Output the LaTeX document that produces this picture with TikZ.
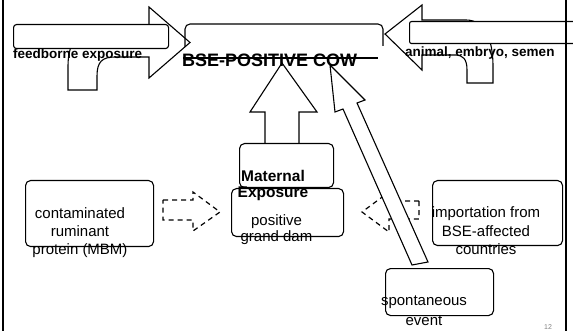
\documentclass[tikz,border=0pt]{standalone}
\usepackage{fontspec}
\setmainfont{Liberation Sans}
\begin{document}
\begin{tikzpicture}[x=1pt,y=-1pt,
  outl/.style={draw=black,line width=1.1pt,line join=miter},
  shapefill/.style={outl,fill=white},
  rbox/.style={draw=black,line width=1.1pt,rounded corners=5pt,inner sep=0pt},
  dashedarrow/.style={draw=black,line width=1.2pt,dash pattern=on 5pt off 4pt},
  lbl/.style={inner sep=0pt,align=center,font=\fontsize{15}{18}\selectfont},
  blbl/.style={inner sep=0pt,font=\fontsize{13.5}{16}\selectfont\bfseries},
  frameline/.style={draw=black,line width=2pt}]
\useasboundingbox (0,0) rectangle (573,331);

% left bent arrow (feedborne exposure)
\path[shapefill] (68,90) -- (68,66) .. controls (68,40) and (80,28) .. (100,28) -- (149,28) -- (149,7) -- (190,42.5) -- (149,78) -- (149,57) -- (115,57) .. controls (102,57) and (97,62) .. (97,76) -- (97,90) -- cycle;
\node[shapefill, rounded corners=3pt, minimum width=155pt, minimum height=24pt, inner sep=0pt, anchor=north west] (feedbar) at (13,24) {};

% right bent arrow (animal, embryo, semen)
\path[shapefill] (467,83) -- (467,70) .. controls (467,59) and (463,55) .. (455,55) -- (422,55) -- (422,70) -- (385,34) -- (422,5) -- (422,20) -- (466,20) .. controls (485,20) and (493,40) .. (493,66) -- (493,83) -- cycle;
\node[shapefill, rounded corners=2pt, minimum width=170pt, minimum height=22pt, inner sep=0pt, anchor=north west] (animalbar) at (409,21) {};

% BSE-positive cow box
\draw[outl, rounded corners=5pt] (185,47) -- (185,24) -- (383,24) -- (383,46);
\draw[outl] (183,58) -- (378,58);

% up arrow from maternal exposure
\path[shapefill] (265,143) -- (265,112) -- (250,112) -- (282,63) -- (317,112) -- (299,112) -- (299,143);

% dashed arrows
\draw[dashedarrow] (163,200) -- (193,200) -- (193,192) -- (220,212) -- (193,231) -- (193,220) -- (163,220) -- cycle;
\draw[dashedarrow] (419,201) -- (389,201) -- (389,192) -- (362,212) -- (389,232) -- (389,219) -- (419,219) -- cycle;

% long arrow from spontaneous event
\path[shapefill] (412,265) -- (343,109) -- (335,112) -- (330,65) -- (365,100) -- (357,103) -- (428,262) -- cycle;

% boxes
\node[rbox, minimum width=128pt, minimum height=66pt, anchor=north west] (mbmbox) at (25,180) {};
\node[rbox, minimum width=94pt, minimum height=44pt, anchor=north west] (matbox) at (239,143) {};
\node[rbox, minimum width=112pt, minimum height=48pt, anchor=north west] (dambox) at (231,188) {};
\node[rbox, minimum width=130pt, minimum height=65pt, anchor=north west] (impbox) at (432,180) {};
\node[rbox, minimum width=108pt, minimum height=47pt, anchor=north west] (spobox) at (385,268) {};

% texts
\node[blbl, anchor=base west] (feedtxt) at (13,59) {feedborne exposure};
\node[blbl, anchor=base west] (animaltxt) at (405,56.5) {animal, embryo, semen};
\node[inner sep=0pt, anchor=base west, font=\fontsize{18}{20}\selectfont\bfseries] (cowtxt) at (182,67) {BSE-POSITIVE COW};
\node[lbl] (mbmtxt) at (80,233) {contaminated\\ruminant\\protein (MBM)};
\node[lbl, font=\fontsize{15.5}{16}\selectfont\bfseries] (mattxt) at (273,185.5) {Maternal\\Exposure};
\node[lbl, font=\fontsize{15}{16}\selectfont] (damtxt) at (276.5,230) {positive\\grand dam};
\node[lbl, font=\fontsize{15}{18.5}\selectfont] (imptxt) at (486,231) {importation from\\BSE-affected\\countries};
\node[lbl, font=\fontsize{15}{20}\selectfont] (spotxt) at (424,311) {spontaneous\\event};
\node[inner sep=0pt, anchor=base, font=\fontsize{7}{8}\selectfont, text=gray] (pagenum) at (548,329.5) {12};

% frame lines
\draw[frameline] (2.5,0) -- (2.5,331);
\draw[frameline] (566,0) -- (566,331);
\end{tikzpicture}
\end{document}
